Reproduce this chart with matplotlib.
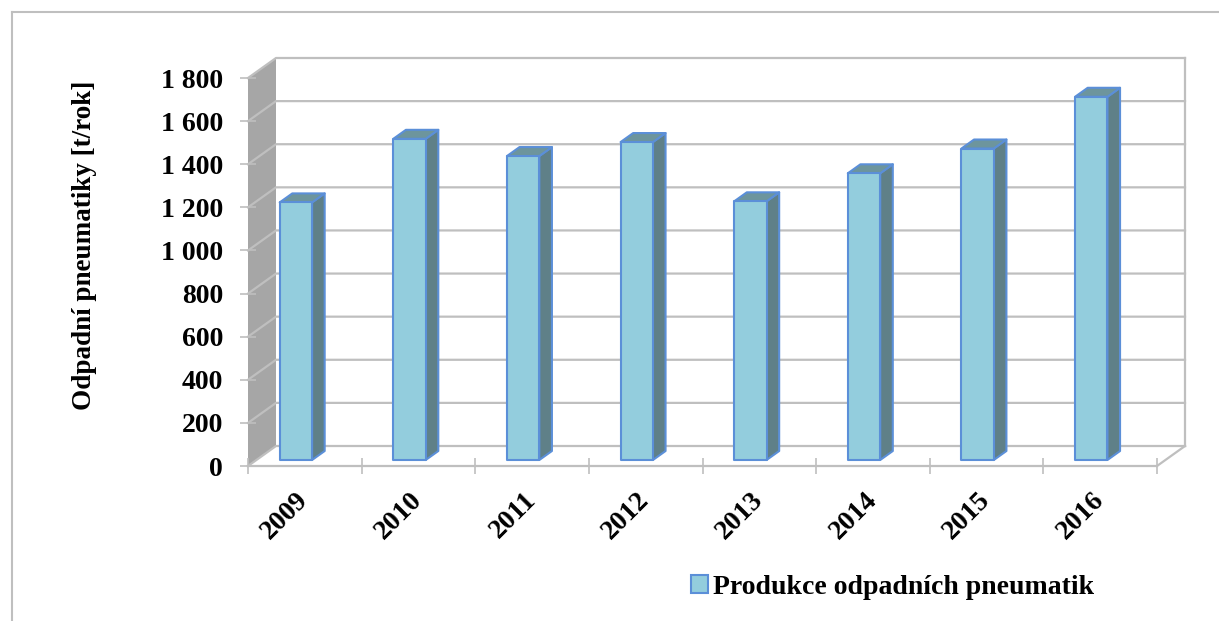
import matplotlib
matplotlib.use("Agg")
import matplotlib.pyplot as plt
from matplotlib.patches import Polygon, Patch
from matplotlib.ticker import FuncFormatter

# data
years = ['2009', '2010', '2011', '2012', '2013', '2014', '2015', '2016']
values = [1195, 1490, 1410, 1475, 1200, 1330, 1445, 1685]
yticks = [0, 200, 400, 600, 800, 1000, 1200, 1400, 1600, 1800]
ylabel = 'Odpadní pneumatiky [t/rok]'
series_name = 'Produkce odpadních pneumatik'

plt.rcParams['font.family'] = ['Liberation Serif', 'DejaVu Serif']
plt.rcParams['font.weight'] = 'bold'

W, H = 1219, 621
fig = plt.figure(figsize=(W / 100, H / 100), dpi=100)

# front plane of the 3D box in pixels
x_left, x_right, y_bot, y_top = 248, 1157, 466, 78
ax = fig.add_axes([x_left / W, (H - y_bot) / H, (x_right - x_left) / W, (y_bot - y_top) / H])
ax.set_xlim(-0.5, len(years) - 0.5)
ax.set_ylim(0, 1800)
ax.patch.set_visible(False)

# depth of the box (oblique projection), in data units
dxu = 28 / ((x_right - x_left) / len(years))
dyu = 20 / ((y_bot - y_top) / 1800)

def proj(x, v, z):
    return (x + z * dxu, v + z * dyu)

grid_c = '#bfbfbf'
n = len(years)
x0w, x1w = -0.5, n - 0.5

# side wall
ax.add_patch(Polygon([proj(x0w, 0, 0), proj(x0w, 0, 1), proj(x0w, 1800, 1), proj(x0w, 1800, 0)],
                     closed=True, facecolor='#a6a6a6', edgecolor='none', clip_on=False, zorder=1))

# gridlines on back wall and side wall
for v in yticks:
    a, b, c = proj(x0w, v, 0), proj(x0w, v, 1), proj(x1w, v, 1)
    ax.plot([a[0], b[0], c[0]], [a[1], b[1], c[1]], color=grid_c, lw=1.6, clip_on=False, zorder=2)
# right edge of back wall and floor
r0, r1 = proj(x1w, 0, 1), proj(x1w, 1800, 1)
ax.plot([r0[0], r1[0]], [r0[1], r1[1]], color=grid_c, lw=1.6, clip_on=False, zorder=2)
f0 = proj(x1w, 0, 0)
ax.plot([f0[0], r0[0]], [f0[1], r0[1]], color=grid_c, lw=1.6, clip_on=False, zorder=2)

# bars
front_c, side_c, top_c, edge_c = '#93cddd', '#5f8088', '#6d959d', '#5b8fd8'
z0, z1 = 0.3, 0.75
off, bw = 0.205, 0.285
for i, h in enumerate(values):
    xa = i - 0.5 + off
    xb = xa + bw
    side = [proj(xb, 0, z0), proj(xb, 0, z1), proj(xb, h, z1), proj(xb, h, z0)]
    top = [proj(xa, h, z0), proj(xb, h, z0), proj(xb, h, z1), proj(xa, h, z1)]
    front = [proj(xa, 0, z0), proj(xb, 0, z0), proj(xb, h, z0), proj(xa, h, z0)]
    for pts, fc in [(side, side_c), (top, top_c), (front, front_c)]:
        ax.add_patch(Polygon(pts, closed=True, facecolor=fc, edgecolor=edge_c, lw=1.5,
                             joinstyle='round', clip_on=False, zorder=3))

# axes, ticks
for s in ['left', 'right', 'top']:
    ax.spines[s].set_visible(False)
ax.spines['bottom'].set_color(grid_c)
ax.spines['bottom'].set_linewidth(1.6)

ax.set_yticks(yticks)
ax.yaxis.set_major_formatter(FuncFormatter(lambda v, p: f'{int(v):,}'.replace(',', ' ')))
ax.tick_params(axis='y', direction='inout', length=12, width=1.2, color=grid_c,
               labelsize=20, pad=12)

ax.set_xticks(range(n))
ax.set_xticklabels(years, rotation=45, ha='right', va='center', rotation_mode='anchor')
ax.set_xticks([i - 0.5 for i in range(n + 1)], minor=True)
ax.tick_params(axis='x', which='major', length=0, labelsize=20, pad=22)
ax.tick_params(axis='x', which='minor', direction='inout', length=11, width=1.2, color=grid_c)

for lab in ax.get_yticklabels() + ax.get_xticklabels():
    lab.set_fontweight('bold')

fig.text(85 / W, 1 - 245 / H, ylabel, rotation=90, ha='center', va='center',
         fontsize=19.5, fontweight='bold')

handle = Patch(facecolor=front_c, edgecolor=edge_c, lw=1.5)
leg = fig.legend([handle], [series_name], loc='center left',
                 bbox_to_anchor=(666 / W, 1 - 587 / H), frameon=False,
                 handlelength=0.6, handleheight=0.6, handletextpad=0.2,
                 prop={'size': 20, 'weight': 'bold'})

# outer chart border (cut at right and bottom)
fig.add_artist(plt.Line2D([12 / W, 1], [1 - 12 / H, 1 - 12 / H], color=grid_c, lw=1.5,
                          transform=fig.transFigure))
fig.add_artist(plt.Line2D([12 / W, 12 / W], [0, 1 - 12 / H], color=grid_c, lw=1.5,
                          transform=fig.transFigure))

fig.savefig('out.png', dpi=100)
